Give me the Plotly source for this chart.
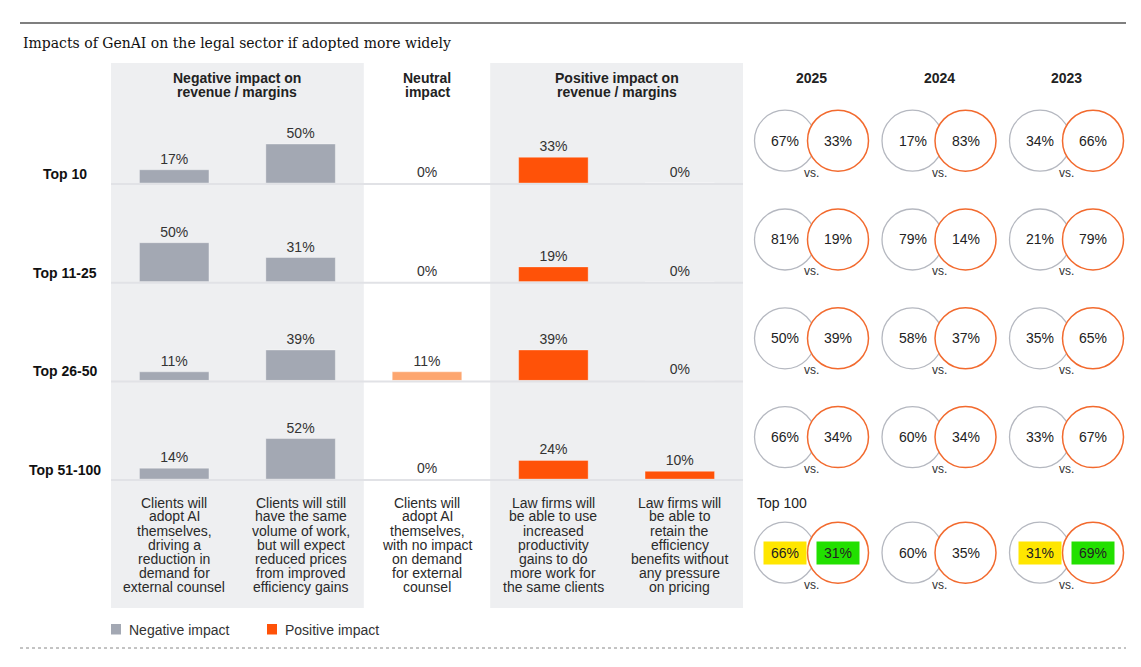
import plotly.graph_objects as go

# page body has an 8px margin, so the figure is a bit smaller than the window
PAGE_OFF = 8
W, H = 1141 - 2 * PAGE_OFF, 667 - 2 * PAGE_OFF - 1

# ---- data ----
tiers = ["Top 10", "Top 11-25", "Top 26-50", "Top 51-100"]

neg_reduce_demand = [17, 50, 11, 14]
neg_reduced_prices = [50, 31, 39, 52]
neutral_no_impact = [0, 0, 11, 0]
pos_more_work = [33, 19, 39, 24]
pos_retain_benefits = [0, 0, 0, 10]

col_desc = [
    ["Clients will", "adopt AI", "themselves,", "driving a", "reduction in", "demand for", "external counsel"],
    ["Clients will still", "have the same", "volume of work,", "but will expect", "reduced prices", "from improved", "efficiency gains"],
    ["Clients will", "adopt AI", "themselves,", "with no impact", "on demand", "for external", "counsel"],
    ["Law firms will", "be able to use", "increased", "productivity", "gains to do", "more work for", "the same clients"],
    ["Law firms will", "be able to", "retain the", "efficiency", "benefits without", "any pressure", "on pricing"],
]
group_headers = [["Negative impact on", "revenue / margins"], ["Neutral", "impact"], ["Positive impact on", "revenue / margins"]]

years = ["2025", "2024", "2023"]
circle_groups = ["Top 10", "Top 11-25", "Top 26-50", "Top 51-100", "Top 100"]
neg_share = {
    "2025": [67, 81, 50, 66, 66],
    "2024": [17, 79, 58, 60, 60],
    "2023": [34, 21, 35, 33, 31],
}
pos_share = {
    "2025": [33, 19, 39, 34, 31],
    "2024": [83, 14, 37, 34, 35],
    "2023": [66, 79, 65, 67, 69],
}
# highlighted cells in the Top 100 row: (year, side, colour)
highlights = [("2025", "neg", "#ffe600"), ("2025", "pos", "#22e000"),
              ("2023", "neg", "#ffe600"), ("2023", "pos", "#22e000")]

# ---- style ----
GRAY = "#a3a8b3"
ORANGE = "#ff5208"
NEUTRAL = "#fda66f"
PANEL = "#eeeff1"
TXT = "#222222"
FONT = "Liberation Sans, Arial, sans-serif"
FS = 14


def px(x):
    return (x - PAGE_OFF) / W


def py(y):
    return 1 - (y - PAGE_OFF) / H


fig = go.Figure()
layout = dict(
    width=W, height=H, margin=dict(l=0, r=0, t=0, b=0),
    paper_bgcolor="white", plot_bgcolor="rgba(0,0,0,0)",
    showlegend=False, barmode="overlay",
    font=dict(family=FONT, size=FS, color=TXT),
)

row_base = [183 + 98.7 * r for r in range(4)]
row_h = 99
px_per_pct = 0.78

shapes = []
annotations = []

# background panels (negative / positive)
for c0, c1 in [(-0.5, 1.5), (2.5, 4.5)]:
    shapes.append(dict(type="rect", xref="x", yref="paper", x0=c0, x1=c1,
                       y0=py(608), y1=py(63), fillcolor=PANEL, line_width=0, layer="below"))

for r, tier in enumerate(tiers):
    n = "" if r == 0 else str(r + 1)
    base = row_base[r]
    layout["xaxis" + n] = dict(domain=[px(111), px(743)], range=[-0.5, 4.5], visible=False,
                               anchor="y" + n, fixedrange=True)
    layout["yaxis" + n] = dict(domain=[py(base), py(base - row_h)], range=[0, row_h / px_per_pct],
                               visible=False, anchor="x" + n, fixedrange=True)
    series = [
        ([0, 1], [neg_reduce_demand[r], neg_reduced_prices[r]], GRAY),
        ([2], [neutral_no_impact[r]], NEUTRAL),
        ([3, 4], [pos_more_work[r], pos_retain_benefits[r]], ORANGE),
    ]
    for xs, ys, col in series:
        fig.add_trace(go.Bar(
            x=xs, y=ys, width=0.55, xaxis="x" + n, yaxis="y" + n,
            marker=dict(color=col, line=dict(color="rgba(255,255,255,0.35)", width=1)),
            text=[f"{v}%" for v in ys], textposition="outside", cliponaxis=False,
            textfont=dict(size=FS, color="#333333", family=FONT),
            hoverinfo="skip",
        ))
    shapes.append(dict(type="line", xref="paper", yref="paper", x0=px(111), x1=px(743),
                       y0=py(base + 1), y1=py(base + 1), line=dict(color="#e1e2e6", width=2)))
    annotations.append(dict(text=f"<b>{tier}</b>", xref="paper", yref="paper", x=px(65),
                            y=py(base - 9), showarrow=False, xanchor="center", yanchor="middle",
                            font=dict(size=FS, color="#111")))

# group headers
for gx, lines in zip([0.5, 2, 3.5], group_headers):
    for k, line in enumerate(lines):
        annotations.append(dict(text=f"<b>{line}</b>", xref="x", yref="paper", x=gx,
                                y=py(78 + 14 * k), showarrow=False, yanchor="middle",
                                font=dict(size=FS, color=TXT)))

# column descriptions
for c, lines in enumerate(col_desc):
    for k, line in enumerate(lines):
        annotations.append(dict(text=line, xref="x", yref="paper", x=c, y=py(502.5 + 14 * k),
                                showarrow=False, yanchor="middle",
                                font=dict(size=FS, color="#2a2a2a")))

# ---- circles ----
unit_x = 127.5
unit_y = 98.8
layout["xaxis5"] = dict(domain=[px(811.5 - unit_x / 2), px(811.5 + 2.5 * unit_x)],
                        range=[-0.5, 2.5], visible=False, anchor="y5", fixedrange=True)
layout["yaxis5"] = dict(domain=[py(140.7 + 4.7 * unit_y), py(140.7 - 0.5 * unit_y)],
                        range=[4.7, -0.5], visible=False, anchor="x5", fixedrange=True)
off = 26.5 / unit_x
row_pos = [0, 1, 2, 3, 4.17]

cx_neg, cx_pos, cy = [], [], []
for i, yr in enumerate(years):
    for j in range(len(circle_groups)):
        cx_neg.append(i - off)
        cx_pos.append(i + off)
        cy.append(row_pos[j])

fig.add_trace(go.Scatter(x=cx_neg, y=cy, xaxis="x5", yaxis="y5", mode="markers",
                         marker=dict(size=61, color="white", line=dict(color="#b5b8c0", width=1.3)),
                         hoverinfo="skip"))
fig.add_trace(go.Scatter(x=cx_pos, y=cy, xaxis="x5", yaxis="y5", mode="markers",
                         marker=dict(size=61, color="white", line=dict(color="#f26a2e", width=1.5)),
                         hoverinfo="skip"))

hl = {(y, s): c for y, s, c in highlights}
for i, yr in enumerate(years):
    annotations.append(dict(text=f"<b>{yr}</b>", xref="x5", yref="paper", x=i, y=py(78),
                            showarrow=False, yanchor="middle", font=dict(size=FS, color=TXT)))
    for j, g in enumerate(circle_groups):
        for side, xv, val in [("neg", i - off, neg_share[yr][j]), ("pos", i + off, pos_share[yr][j])]:
            a = dict(text=f"{val}%", xref="x5", yref="y5", x=xv, y=row_pos[j], showarrow=False,
                     yanchor="middle", font=dict(size=FS, color=TXT))
            if g == "Top 100" and (yr, side) in hl:
                a.update(bgcolor=hl[(yr, side)], width=42, height=22, borderpad=0)
            annotations.append(a)
        annotations.append(dict(text="vs.", xref="x5", yref="y5", x=i, y=row_pos[j] + 32 / unit_y,
                                showarrow=False, yanchor="middle", font=dict(size=12, color="#333")))

annotations.append(dict(text="Top 100", xref="paper", yref="paper", x=px(755), y=py(502.5),
                        showarrow=False, xanchor="left", yanchor="middle", font=dict(size=FS, color=TXT)))

# ---- title, rules, legend ----
shapes.append(dict(type="line", xref="paper", yref="paper", x0=px(20), x1=px(1126),
                   y0=py(23), y1=py(23), line=dict(color="#555", width=1.5)))
shapes.append(dict(type="line", xref="paper", yref="paper", x0=px(20), x1=px(1126),
                   y0=py(648), y1=py(648), line=dict(color="#888", width=1, dash="dot")))
annotations.append(dict(text="Impacts of GenAI on the legal sector if adopted more widely",
                        xref="paper", yref="paper", x=px(21), y=py(43), showarrow=False,
                        xanchor="left", yanchor="middle",
                        font=dict(family="DejaVu Serif, Georgia, serif", size=14, color="#111")))

for x0, col, label in [(111, GRAY, "Negative impact"), (267, ORANGE, "Positive impact")]:
    shapes.append(dict(type="rect", xref="paper", yref="paper", x0=px(x0), x1=px(x0 + 10),
                       y0=py(634.5), y1=py(624), fillcolor=col, line_width=0))
    annotations.append(dict(text=label, xref="paper", yref="paper", x=px(x0 + 16), y=py(629.5),
                            showarrow=False, xanchor="left", yanchor="middle",
                            font=dict(size=FS, color="#333")))

layout["shapes"] = shapes
layout["annotations"] = annotations
fig.update_layout(**layout)

fig.write_html("out.html")
